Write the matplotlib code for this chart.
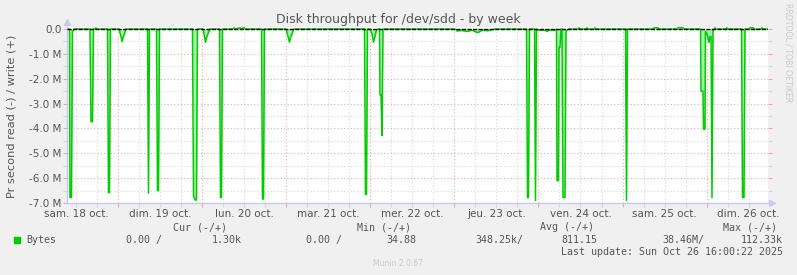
"""Munin style weekly disk throughput graph for /dev/sdd, redrawn with matplotlib."""

import matplotlib
matplotlib.use("Agg")
import matplotlib.pyplot as plt
import numpy as np

# hours since sam. 18 oct. 00:00, and read(-)/write(+) throughput in MB/s
hours = [
    9.29, 10.0, 10.14, 10.57, 10.86, 11.14, 11.43,
    15.86, 16.14, 16.57, 16.86, 17.57, 17.86,
    20.86, 21.14, 21.43, 21.71,
    24.14, 24.71, 25.0, 25.29, 25.57, 26.14,
    32.29, 32.57, 32.86,
    34.86, 35.14, 35.43, 35.71,
    45.14, 45.43, 45.86, 46.29, 46.57,
    48.14, 48.57, 48.86, 49.14, 49.57, 50.14,
    52.86, 53.14, 53.43, 53.71,
    56.71, 57.0, 57.29, 58.71, 59.0, 59.86, 60.14,
    64.86, 65.14, 65.43, 65.71,
    71.86, 72.43, 72.86, 73.14, 73.57, 74.14,
    94.29, 94.57, 94.86, 95.14,
    95.86, 96.43, 96.86, 97.29, 97.71, 98.14,
    98.57, 98.71, 99.0, 99.29, 99.57,
    120.14, 120.71, 122.14, 123.57, 125.0, 126.71, 127.86, 129.57, 131.57,
    140.57, 140.86, 141.14, 141.43,
    142.86, 143.14, 143.43, 143.86, 145.86, 146.43, 147.0, 148.71, 149.14,
    149.29, 149.71, 149.86, 150.14, 150.43, 150.71, 151.0, 151.57, 151.86, 152.14, 152.71,
    155.29, 155.57, 155.86, 157.57, 157.86, 158.14, 159.86, 160.14, 160.43,
    168.86, 169.14, 169.43,
    176.71, 177.0, 178.14, 178.43, 183.57, 183.86, 185.29, 185.57,
    190.29, 190.43, 191.0, 191.14, 191.57, 191.71, 192.14, 192.71, 193.0, 193.29,
    193.57, 193.86, 194.14,
    194.43, 194.71, 197.57, 197.86, 198.14,
    202.0, 202.29, 202.71, 203.0,
    204.14, 204.43, 205.29, 205.57, 207.57, 207.86, 208.14, 209.57,
]
throughput = [
    0.0, 0.0, -6.78, -6.78, -0.10, -0.05, 0.0,
    0.0, -3.73, -3.73, 0.0, 0.04, 0.0,
    0.0, -6.58, -6.58, 0.0,
    0.0, -0.30, -0.51, -0.35, -0.25, 0.0,
    0.0, -6.60, 0.0,
    0.0, -6.50, -6.50, 0.0,
    0.0, -6.70, -6.88, -6.88, 0.0,
    0.0, -0.30, -0.53, -0.35, -0.20, 0.0,
    0.0, -6.78, -6.78, 0.0,
    0.0, 0.05, 0.0, 0.05, 0.0, 0.06, 0.0,
    0.0, -6.84, -6.84, 0.0,
    0.0, -0.30, -0.53, -0.35, -0.20, 0.0,
    0.0, -6.65, -6.65, 0.0,
    0.0, -0.20, -0.53, -0.30, -0.05, 0.0,
    0.0, -2.65, -2.65, -4.29, 0.0,
    0.0, -0.08, -0.06, -0.10, -0.05, -0.15, -0.05, -0.07, 0.0,
    0.0, -6.78, -6.78, 0.0,
    0.0, -6.90, 0.0, -0.05, -0.05, -0.10, -0.05, -0.05, 0.0,
    -6.10, -6.10, -0.74, -0.74, 0.0, 0.0, -6.78, -6.78, -0.10, -0.05, 0.0,
    0.0, 0.05, 0.0, 0.0, 0.05, 0.0, 0.0, 0.05, 0.0,
    0.0, -6.90, 0.0,
    0.0, 0.05, 0.05, 0.0, 0.0, 0.05, 0.05, 0.0,
    0.0, -2.50, -2.50, -4.03, -4.03, -0.10, -0.20, -0.55, -0.30, -0.30,
    -6.78, -0.05, 0.0,
    0.05, 0.0, 0.0, 0.05, 0.0,
    0.0, -6.78, -6.78, 0.0,
    0.0, 0.05, 0.05, 0.0, 0.0, 0.05, 0.0, 0.0,
]
day_labels = ["sam. 18 oct.", "dim. 19 oct.", "lun. 20 oct.", "mar. 21 oct.",
              "mer. 22 oct.", "jeu. 23 oct.", "ven. 24 oct.", "sam. 25 oct.",
              "dim. 26 oct."]
legend_head = ["Cur (-/+)", "Min (-/+)", "Avg (-/+)", "Max (-/+)"]
legend_vals = ["0.00 /", "1.30k", "0.00 /", "34.88",
               "348.25k/", "811.15", "38.46M/", "112.33k"]

W, H = 797, 275
BG = "#f0f0f0"
TXT = "#555555"
GREEN = "#00cc00"
MINOR = "#d6d6d6"
MAJOR = "#e8a8a8"
AXIS = "#c8c8f0"


def fx(px):
    return px / W


def fy(py):
    return 1 - py / H


fig = plt.figure(figsize=(W / 100, H / 100), dpi=100, facecolor=BG)
ax = fig.add_axes([fx(67), fy(203), fx(768) - fx(67), fy(27) - fy(203)])
ax.set_facecolor("white")

x = np.array(hours)
y = np.array(throughput)
ax.fill_between(x, y, 0, color=GREEN, alpha=0.35, lw=0)
ax.plot(x, y, color=GREEN, lw=1.1)
ax.axhline(0, color="black", lw=1.0, ls=(0, (3, 1)), zorder=4)

ax.set_xlim(9.29, 209.57)
ax.set_ylim(-7.0, 0.08)

ax.set_yticks(np.arange(-7, 0.5, 1))
ax.set_yticks(np.arange(-6.5, 0, 1), minor=True)
ax.set_yticklabels(["-%.1f M" % abs(v) if v else "0.0" for v in np.arange(-7, 0.5, 1)])
ax.set_xticks(np.arange(24, 210, 24))
ax.set_xticks([h for h in np.arange(12, 210, 6) if h % 24], minor=True)
ax.set_xticklabels([])

ax.grid(which="major", color=MAJOR, ls=(0, (1, 2)), lw=0.8)
ax.grid(which="minor", color=MINOR, ls=(0, (1, 2)), lw=0.8)
ax.tick_params(which="major", length=3, width=0.8, color=MAJOR, labelsize=7.5,
               labelcolor=TXT, pad=1)
ax.tick_params(which="minor", length=3, width=0.8, color=MINOR)
ax.tick_params(axis="y", which="both", right=True)

for side in ("top", "right"):
    ax.spines[side].set_visible(False)
for side in ("left", "bottom"):
    ax.spines[side].set_color(AXIS)
    ax.spines[side].set_linewidth(1.0)
ax.plot(0, 1.03, "^", color=AXIS, ms=5, transform=ax.transAxes, clip_on=False)
ax.plot(1.006, 0, ">", color=AXIS, ms=5, transform=ax.transAxes, clip_on=False)

for i, lab in enumerate(day_labels):
    ax.text(12 + 24 * i, -0.06, lab, transform=ax.get_xaxis_transform(),
            ha="center", va="center", fontsize=7.5, color=TXT)

fig.text(fx(398), fy(19), "Disk throughput for /dev/sdd - by week",
         ha="center", va="center", fontsize=9, color=TXT)
fig.text(fx(12), fy(116), "Pr second read (-) / write (+)", rotation=90,
         ha="center", va="center", fontsize=8.2, color=TXT)
fig.text(fx(788), fy(53), "RRDTOOL / TOBI OETIKER", rotation=270,
         ha="center", va="center", fontsize=5.6, color="#c8c8c8")

mono = dict(family="DejaVu Sans Mono", fontsize=7.2, color=TXT, va="center")
for px, lab in zip([173, 357, 540, 723], legend_head):
    fig.text(fx(px), fy(227), lab, ha="left", **mono)
fig.patches.append(plt.Rectangle((fx(14), fy(243)), fx(6), fy(237) - fy(243),
                                 transform=fig.transFigure, color=GREEN))
fig.text(fx(26), fy(240), "Bytes", ha="left", **mono)
for px, lab in zip([126, 212, 306, 386, 475, 561, 662, 741], legend_vals):
    fig.text(fx(px), fy(240), lab, ha="left", **mono)
fig.text(fx(783), fy(252), "Last update: Sun Oct 26 16:00:22 2025", ha="right", **mono)
fig.text(fx(398), fy(263), "Munin 2.0.67", ha="center", va="center",
         fontsize=5.5, color="#c8c8c8")

fig.savefig("out.png", dpi=100, facecolor=BG)
